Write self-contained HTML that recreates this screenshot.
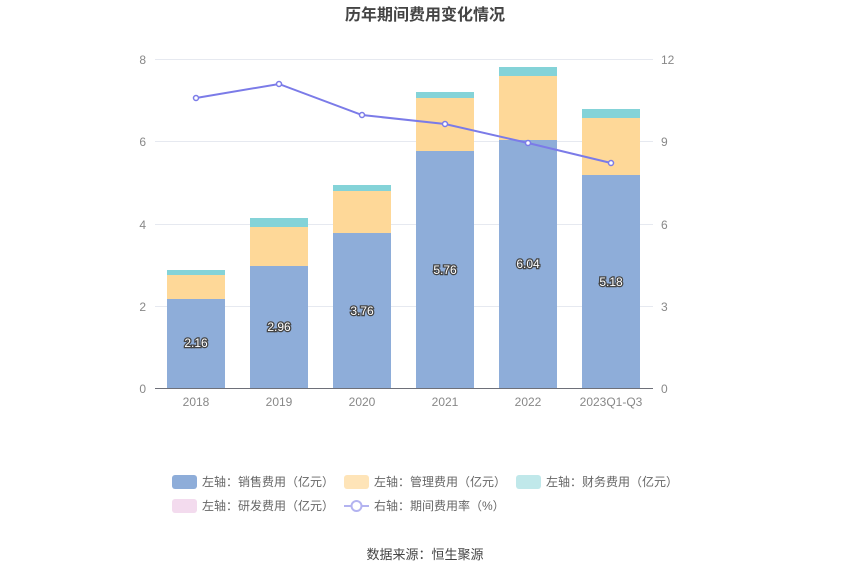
<!DOCTYPE html>
<html><head><meta charset="utf-8"><style>
body{margin:0;background:#fff;}
svg text{font-family:"Liberation Sans","Noto Sans CJK SC",sans-serif;}
</style></head><body>
<svg width="850" height="575" viewBox="0 0 850 575" xmlns="http://www.w3.org/2000/svg">
<text x="425" y="20" text-anchor="middle" font-size="16" font-weight="bold" fill="#444">历年期间费用变化情况</text>
<g stroke="#e6e9f0" stroke-width="1">
<line x1="155" y1="59.5" x2="653" y2="59.5"/>
<line x1="155" y1="141.5" x2="653" y2="141.5"/>
<line x1="155" y1="224.5" x2="653" y2="224.5"/>
<line x1="155" y1="306.5" x2="653" y2="306.5"/>
</g>
<line x1="155" y1="388.5" x2="653" y2="388.5" stroke="#6e7079"/>
<g font-size="12" fill="#888">
<text x="146" y="64" text-anchor="end">8</text>
<text x="146" y="146" text-anchor="end">6</text>
<text x="146" y="229" text-anchor="end">4</text>
<text x="146" y="311" text-anchor="end">2</text>
<text x="146" y="393" text-anchor="end">0</text>
<text x="661" y="64">12</text>
<text x="661" y="146">9</text>
<text x="661" y="229">6</text>
<text x="661" y="311">3</text>
<text x="661" y="393">0</text>
<text x="196" y="406" text-anchor="middle">2018</text>
<text x="279" y="406" text-anchor="middle">2019</text>
<text x="362" y="406" text-anchor="middle">2020</text>
<text x="445" y="406" text-anchor="middle">2021</text>
<text x="528" y="406" text-anchor="middle">2022</text>
<text x="611" y="406" text-anchor="middle">2023Q1-Q3</text>
</g>
<g>
<rect x="167" y="299" width="58" height="89" fill="#8eadd9"/>
<rect x="167" y="275" width="58" height="24" fill="#fed898"/>
<rect x="167" y="270" width="58" height="5" fill="#84d3d8"/>
<rect x="250" y="266" width="58" height="122" fill="#8eadd9"/>
<rect x="250" y="227" width="58" height="39" fill="#fed898"/>
<rect x="250" y="218" width="58" height="9" fill="#84d3d8"/>
<rect x="333" y="233" width="58" height="155" fill="#8eadd9"/>
<rect x="333" y="191" width="58" height="42" fill="#fed898"/>
<rect x="333" y="185" width="58" height="6" fill="#84d3d8"/>
<rect x="416" y="151" width="58" height="237" fill="#8eadd9"/>
<rect x="416" y="98" width="58" height="53" fill="#fed898"/>
<rect x="416" y="92" width="58" height="6" fill="#84d3d8"/>
<rect x="499" y="140" width="58" height="248" fill="#8eadd9"/>
<rect x="499" y="76" width="58" height="64" fill="#fed898"/>
<rect x="499" y="67" width="58" height="9" fill="#84d3d8"/>
<rect x="582" y="175" width="58" height="213" fill="#8eadd9"/>
<rect x="582" y="118" width="58" height="57" fill="#fed898"/>
<rect x="582" y="109" width="58" height="9" fill="#84d3d8"/>
</g>
<g font-size="12" fill="#fff" stroke="#444" stroke-width="2.5" paint-order="stroke" text-anchor="middle">
<text x="196" y="347">2.16</text>
<text x="279" y="331">2.96</text>
<text x="362" y="315">3.76</text>
<text x="445" y="274">5.76</text>
<text x="528" y="268">6.04</text>
<text x="611" y="286">5.18</text>
</g>
<polyline points="196,98 279,84 362,115 445,124 528,143 611,163" fill="none" stroke="#7b7be8" stroke-width="2"/>
<g fill="#fff" stroke="#7b7be8" stroke-width="1.5">
<circle cx="196" cy="98" r="2.5"/><circle cx="279" cy="84" r="2.5"/><circle cx="362" cy="115" r="2.5"/>
<circle cx="445" cy="124" r="2.5"/><circle cx="528" cy="143" r="2.5"/><circle cx="611" cy="163" r="2.5"/>
</g>
<g font-size="12" fill="#666">
<rect x="172" y="475" width="25" height="14" rx="3" fill="#8eadd9"/>
<text x="202" y="486">左轴：销售费用（亿元）</text>
<rect x="344" y="475" width="25" height="14" rx="3" fill="#fee4b8"/>
<text x="374" y="486">左轴：管理费用（亿元）</text>
<rect x="516" y="475" width="25" height="14" rx="3" fill="#c0e8ea"/>
<text x="546" y="486">左轴：财务费用（亿元）</text>
<rect x="172" y="499" width="25" height="14" rx="3" fill="#f3dbee"/>
<text x="202" y="510">左轴：研发费用（亿元）</text>
<line x1="344" y1="506" x2="369" y2="506" stroke="#b3b3f0" stroke-width="2"/>
<circle cx="356.5" cy="506" r="5" fill="#fff" stroke="#b3b3f0" stroke-width="2"/>
<text x="374" y="510">右轴：期间费用率（%）</text>
</g>
<text x="425" y="559" text-anchor="middle" font-size="13" fill="#444">数据来源：恒生聚源</text>
</svg>
</body></html>
